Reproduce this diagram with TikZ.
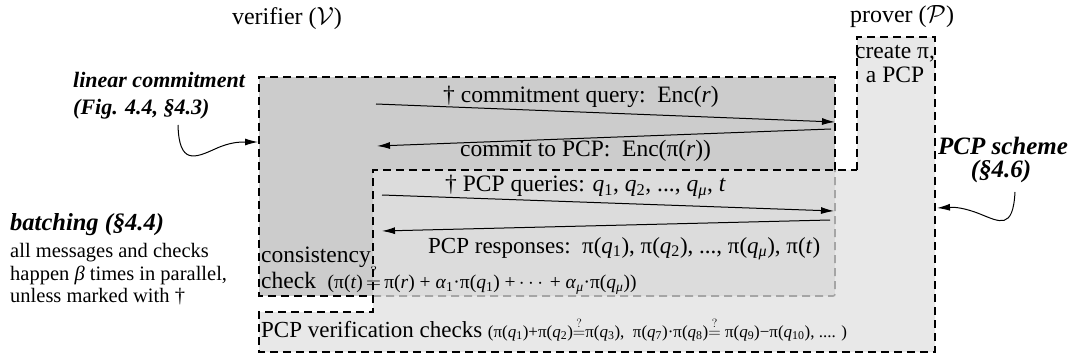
\documentclass[tikz,border=0pt]{standalone}
\usepackage{fontspec}
\setmainfont{Liberation Serif}
\usepackage{amsmath}
\usetikzlibrary{positioning,arrows.meta}
\definecolor{commitGray}{RGB}{204,204,204}
\definecolor{overlapGray}{RGB}{220,220,220}
\definecolor{schemeGray}{RGB}{232,232,232}
\definecolor{hiddenLine}{RGB}{165,165,165}
\tikzstyle{diagram} = [x = 1pt, y = -1pt]
\tikzstyle{regionBorder} = [draw=black, line width=1.8pt, dash pattern=on 8pt off 5pt]
\tikzstyle{hiddenBorder} = [draw=hiddenLine, line width=1.6pt, dash pattern=on 8pt off 5pt]
\tikzstyle{msgArrow} = [line width=1pt, -{Latex[length=13pt,width=7pt]}]
\tikzstyle{pointerArrow} = [line width=1pt, -{Latex[length=13pt,width=7pt]}]
\tikzstyle{partyText} = [font=\fontsize{24}{28}\selectfont, inner sep=0pt, anchor=base]
\tikzstyle{msgText} = [font=\fontsize{23.5}{26}\selectfont, inner sep=0pt, anchor=base west]
\tikzstyle{noteText} = [font=\fontsize{22}{26}\selectfont\bfseries\itshape, inner sep=0pt]
\tikzstyle{bodyText} = [font=\fontsize{20.5}{23}\selectfont, inner sep=0pt, anchor=base west]
\newcommand{\formulaSize}{\fontsize{19.5}{22}\selectfont}
\newcommand{\smallFormulaSize}{\fontsize{17}{20}\selectfont}
\newcommand{\qv}[1]{\textit{q}\textsubscript{#1}}
\newcommand{\piq}[1]{π(\qv{#1})}
\newcommand{\checkEq}{$\overset{?}{=}$}

\begin{document}
\begin{tikzpicture}[diagram]
  \useasboundingbox (0,0) rectangle (1073,358);

  % shaded regions
  \fill [schemeGray] (857,37) -- (935,37) -- (935,352) -- (259,352) -- (259,312)
    -- (373,312) -- (373,170) -- (857,170) -- cycle;
  \fill [commitGray] (259,77) rectangle (835,296);
  \fill [overlapGray] (373,170) rectangle (835,296);

  % outlines
  \draw [hiddenBorder, rounded corners=2pt] (373,296) -- (835,296) -- (835,170);
  \draw [regionBorder] (835,170) -- (835,77) -- (259,77) -- (259,296) -- (373,296);
  \draw [regionBorder] (857,170) -- (857,37) -- (935,37) -- (935,352) -- (259,352)
    -- (259,312) -- (373,312) -- (373,170) -- cycle;

  % parties
  \node [partyText] (verifier) at (287,25) {verifier ($\mathcal{V}$)};
  \node [partyText] (prover) at (902,23) {prover ($\mathcal{P}$)};
  \node [msgText, anchor=base] (createPcp) at (895,59) {create π,};
  \node [msgText, anchor=base] (aPcp) at (895,83) {a PCP};

  % messages
  \coordinate (queryStart) at (376,104);
  \coordinate (queryEnd) at (835,122);
  \coordinate (commitStart) at (831,129);
  \coordinate (commitEnd) at (377,146);
  \coordinate (pcpQueryStart) at (382,195);
  \coordinate (pcpQueryEnd) at (834,211);
  \coordinate (responseStart) at (830,220);
  \coordinate (responseEnd) at (382,231);
  \draw [msgArrow] (queryStart) -- (queryEnd);
  \draw [msgArrow] (commitStart) -- (commitEnd);
  \draw [msgArrow] (pcpQueryStart) -- (pcpQueryEnd);
  \draw [msgArrow] (responseStart) -- (responseEnd);
  \node [msgText] (queryText) at (443,103) {† commitment query:\ \ Enc(\textit{r})};
  \node [msgText] (commitText) at (460,157) {commit to PCP:\ \ Enc(π(\textit{r}))};
  \node [msgText] (pcpQueryText) at (445,192) {† PCP queries: \qv{1}, \qv{2}, ..., \qv{\textit{μ}}, \textit{t}};
  \node [msgText, font=\fontsize{23}{26}\selectfont] (responseText) at (428,253) {PCP responses:\ \ \piq{1}, \piq{2}, ..., \piq{\textit{μ}}, π(\textit{t})};

  % checks
  \node [msgText] (consistency) at (261,262) {consistency};
  \node [msgText] (consistencyCheck) at (261,288) {check\ \ {\formulaSize(π(\textit{t})\,\checkEq\,π(\textit{r}) + \textit{α}\textsubscript{1}·\piq{1} +\,$\cdots$\,+ \textit{α}\textsubscript{\textit{μ}}·\piq{\textit{μ}})}};
  \node [msgText, font=\fontsize{23}{26}\selectfont] (verificationCheck) at (261,337) {PCP verification checks {\smallFormulaSize(\piq{1}+\piq{2}\checkEq\piq{3},\ \ \piq{7}·\piq{8}\checkEq\ \piq{9}−\piq{10}, .... )}};

  % annotations
  \node [noteText, anchor=base west] (linearNote) at (73,88) {linear commitment};
  \node [noteText, anchor=base west] (linearRef) at (73,115) {(Fig. 4.4, §4.3)};
  \node [noteText, anchor=base, font=\fontsize{25}{28}\selectfont\bfseries\itshape] (schemeNote) at (1003,155) {PCP scheme};
  \node [noteText, anchor=base, font=\fontsize{25}{28}\selectfont\bfseries\itshape] (schemeRef) at (1001,178) {(§4.6)};
  \node [noteText, anchor=base west, font=\fontsize{24.5}{28}\selectfont\bfseries\itshape] (batchNote) at (10,230) {batching (§4.4)};
  \node [bodyText] (batchLineA) at (10,257) {all messages and checks};
  \node [bodyText] (batchLineB) at (10,280) {happen \textit{β} times in parallel,};
  \node [bodyText] (batchLineC) at (10,302) {unless marked with †};

  \coordinate (linearTail) at (178,125);
  \coordinate (linearTip) at (258,142);
  \draw [pointerArrow] (linearTail) .. controls (179,165) and (195,158) .. (215,149)
    .. controls (230,142) and (240,142) .. (linearTip);
  \coordinate (schemeTail) at (1015,192);
  \coordinate (schemeTip) at (937,208);
  \draw [pointerArrow] (schemeTail) .. controls (1013,230) and (1000,222) .. (980,214)
    .. controls (965,208) and (955,207) .. (schemeTip);
\end{tikzpicture}
\end{document}
